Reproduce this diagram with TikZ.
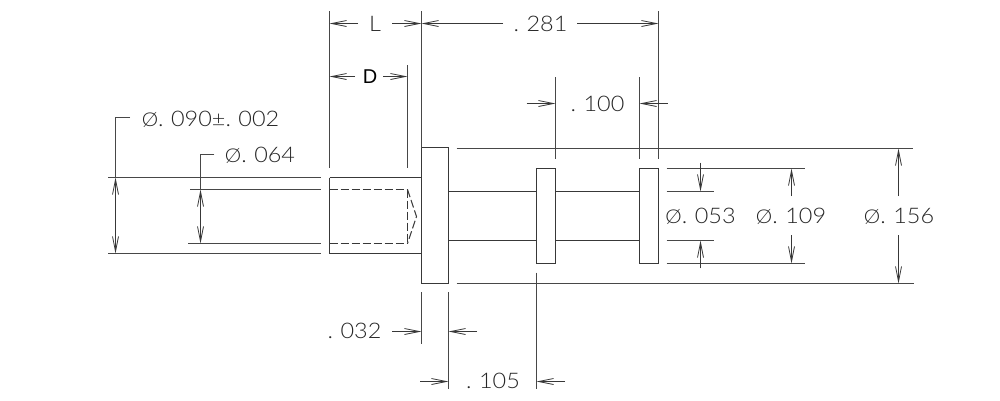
\documentclass[tikz,border=0pt]{standalone}
\usepackage{fontspec}
\setmainfont{Liberation Sans}
\newfontfamily\cadfont[UprightFont={* Light}]{Lato}
\usetikzlibrary{arrows.meta}
\newcommand{\dg}{\hspace{0.32em}}
\newcommand{\dia}{{\fontsize{19}{19}\selectfont Ø}}
\tikzset{
  x=1pt,y=-1pt,
  barb/.tip={Straight Barb[length=15pt,width=6pt,line width=0.8pt]},
  part/.style={line width=1pt,draw=black!78},
  hidden/.style={line width=1pt,draw=black!78,dash pattern=on 8pt off 3pt},
  ext/.style={line width=1pt,draw=black!72},
  dimline/.style={line width=1pt,draw=black!78,-barb},
  bothline/.style={line width=1pt,draw=black!78,barb-barb},
  cad/.style={inner sep=0pt,font=\cadfont\fontsize{21.5}{21.5}\selectfont,text=black!85,transform shape,xscale=1.09},
}
\begin{document}
\begin{tikzpicture}
\useasboundingbox[fill=white] (0,0) rectangle (1000,400);
% part outline
\draw[part] (329.5,177.5) -- (421.5,177.5);
\draw[part] (329.5,253.5) -- (421.5,253.5);
\draw[part] (329.5,177.5) -- (329.5,253.5);
\draw[part] (421.5,147.5) rectangle (448.5,283.5);
\draw[part] (448.5,191.5) -- (536.5,191.5) (448.5,240.5) -- (536.5,240.5);
\draw[part] (555.5,191.5) -- (639.5,191.5) (555.5,240.5) -- (639.5,240.5);
\draw[part] (536.5,168.5) rectangle (555.5,263.5);
\draw[part] (639.5,168.5) rectangle (658.5,263.5);
% hidden bore
\draw[hidden] (329.5,189.5) -- (407.5,189.5);
\draw[hidden] (329.5,243.5) -- (407.5,243.5);
\draw[hidden] (407.5,189.5) -- (407.5,243.5);
\draw[hidden] (407.5,189.5) -- (416.5,216.5) -- (407.5,243.5);
% left rails
\draw[ext] (108,177.5) -- (321,177.5);
\draw[ext] (108,253.5) -- (321,253.5);
\draw[ext] (190,189.5) -- (321,189.5);
\draw[ext] (188,243.5) -- (321,243.5);
% extension lines top
\draw[ext] (329.5,11) -- (329.5,168);
\draw[ext] (421.5,11) -- (421.5,147.5);
\draw[ext] (407.5,65) -- (407.5,168);
\draw[ext] (658.5,11) -- (658.5,159);
\draw[ext] (555.5,77) -- (555.5,159);
\draw[ext] (639.5,77) -- (639.5,159);
% long rails right
\draw[ext] (456.7,148.5) -- (913,148.5);
\draw[ext] (456.7,283.5) -- (914,283.5);
\draw[ext] (666.7,168.5) -- (805,168.5);
\draw[ext] (666.7,263.5) -- (805,263.5);
\draw[ext] (666.7,191.5) -- (714,191.5);
\draw[ext] (666.7,240.5) -- (714,240.5);
% extension lines bottom
\draw[ext] (421.5,292) -- (421.5,344);
\draw[ext] (448.5,292) -- (448.5,389);
\draw[ext] (536.5,272.7) -- (536.5,389);
% dimension lines
\draw[dimline] (358,23.5) -- (329.5,23.5);
\draw[dimline] (392,23.5) -- (421.5,23.5);
\draw[dimline] (503,23.5) -- (421.5,23.5);
\draw[dimline] (577,23.5) -- (658.5,23.5);
\draw[dimline] (355,76.5) -- (329.5,76.5);
\draw[dimline] (383,76.5) -- (407.5,76.5);
\draw[dimline] (526.7,103.5) -- (555.5,103.5);
\draw[dimline] (667.7,103.5) -- (639.5,103.5);
% leaders
\draw[bothline] (115.5,177.5) -- (115.5,253.5);
\draw[ext] (130,117.5) -- (115.5,117.5) -- (115.5,177.5);
\draw[bothline] (200.5,189.5) -- (200.5,243.5);
\draw[ext] (214.3,154.5) -- (200.5,154.5) -- (200.5,189.5);
\draw[dimline] (700.5,162.7) -- (700.5,191.5);
\draw[dimline] (700.5,268.3) -- (700.5,240.5);
\draw[dimline] (791.5,196) -- (791.5,168.5);
\draw[dimline] (791.5,235) -- (791.5,263.5);
\draw[dimline] (898.5,196) -- (898.5,148.5);
\draw[dimline] (898.5,235) -- (898.5,283.5);
\draw[dimline] (392,331.5) -- (421.5,331.5);
\draw[dimline] (477,331.5) -- (448.5,331.5);
\draw[dimline] (420,381.5) -- (448.5,381.5);
\draw[dimline] (565,381.5) -- (536.5,381.5);
% labels
\node[cad] (tL) at (375,24) {L};
\node[inner sep=0pt,font=\fontsize{20}{20}\selectfont,text=black] (tD) at (370,76.5) {D};
\node[cad] (t281) at (540.5,23.5) {.\dg 281};
\node[cad] (t100) at (597.5,104) {.\dg 100};
\node[cad] (t090) at (210.5,119) {\dia.\dg 090±.\dg 002};
\node[cad] (t064) at (260,155) {\dia.\dg 064};
\node[cad] (t053) at (700.5,216) {\dia.\dg 053};
\node[cad] (t109) at (791,216) {\dia.\dg 109};
\node[cad] (t156) at (899,216) {\dia.\dg 156};
\node[cad] (t032) at (354.5,331) {.\dg 032};
\node[cad] (t105) at (493,381) {.\dg 105};
\end{tikzpicture}
\end{document}
